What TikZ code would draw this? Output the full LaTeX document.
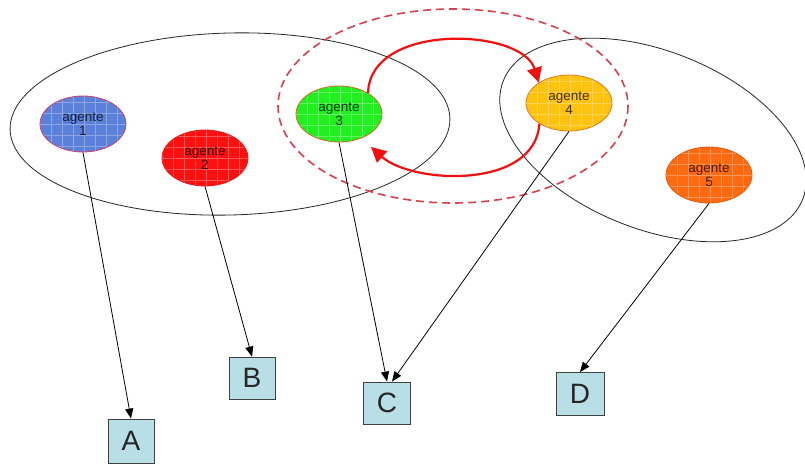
\documentclass[tikz,border=0pt]{standalone}
\usepackage{fontspec}
\setmainfont{Liberation Sans}
\usetikzlibrary{shapes.geometric,arrows.meta}
\definecolor{c1f}{HTML}{5B80DA}\definecolor{c1d}{HTML}{D0406A}
\definecolor{c2f}{HTML}{FF1010}\definecolor{c2d}{HTML}{E02020}
\definecolor{c3f}{HTML}{22EE22}\definecolor{c3d}{HTML}{C87020}
\definecolor{c4f}{HTML}{FFC20E}\definecolor{c4d}{HTML}{E07A20}
\definecolor{c5f}{HTML}{FF6A10}\definecolor{c5d}{HTML}{E05A10}
\definecolor{boxf}{HTML}{B8DEE6}
\definecolor{arcred}{HTML}{F01010}
\definecolor{dashred}{HTML}{D8404E}
\tikzset{
  agent/.style={ellipse, draw=#1d, fill=#1f, line width=0.8pt,
    minimum width=86pt, minimum height=56pt, inner sep=0pt, align=center,
    text=#1f!25!black, font=\fontsize{13.5}{14.5}\selectfont,
    path picture={\draw[white, opacity=0.3, line width=0.4pt, step=11pt]
      ([shift={(-1pt,-1pt)}]path picture bounding box.south west) grid
      ([shift={(1pt,1pt)}]path picture bounding box.north east);}},
  letterbox/.style={rectangle, draw=black!75, fill=boxf, line width=0.8pt,
    inner sep=0pt, font=\fontsize{28}{28}\selectfont, text=black!85},
  group/.style={draw=black!85, line width=0.8pt},
  link/.style={draw=black, line width=0.8pt, -{Triangle[length=10pt,width=8pt]}},
  talk/.style={draw=arcred, line width=2.2pt, -{Triangle[length=15pt,width=15pt]}}
}
\begin{document}
\begin{tikzpicture}[x=1pt, y=-1pt]
\useasboundingbox[fill=white] (0,0) rectangle (805,465);
% group ellipses
\draw[group, rotate around={1.5:(230,124)}] (230,124) ellipse [x radius=220, y radius=91];
\draw[group, rotate around={-21.6:(653,140)}] (653,140) ellipse [x radius=161, y radius=89];
\draw[dashred, line width=1.6pt, dash pattern=on 8pt off 5pt] (453,106) ellipse [x radius=175, y radius=97];
% agents
\node[agent=c1] (a1) at (83,124) {agente\\1};
\node[agent=c2] (a2) at (205,158) {agente\\2};
\node[agent=c3] (a3) at (339,114) {agente\\3};
\node[agent=c4] (a4) at (569,103) {agente\\4};
\node[agent=c5] (a5) at (709,175) {agente\\5};
% boxes
\node[letterbox, minimum width=46pt, minimum height=44pt] (A) at (131,441) {A};
\node[letterbox, minimum width=46pt, minimum height=42pt] (B) at (252,378) {B};
\node[letterbox, minimum width=47pt, minimum height=42pt] (C) at (387,403) {C};
\node[letterbox, minimum width=48pt, minimum height=43pt] (D) at (580,394) {D};
% red exchange arrows
\coordinate (t3) at (371,147);
\draw[talk] (a3.36) .. controls (370,22) and (522,28) .. (a4.146);
\draw[talk] (a4.215) .. controls (535,190) and (412,184) .. (t3);
% connectors
\draw[link] (a1.south) -- (A.north);
\draw[link] (a2.south) -- (B.north);
\draw[link] (a3.south) -- (C.north);
\draw[link] (a4.south) -- ([xshift=5pt]C.north);
\draw[link] (a5.south) -- (D.north);
\end{tikzpicture}
\end{document}
